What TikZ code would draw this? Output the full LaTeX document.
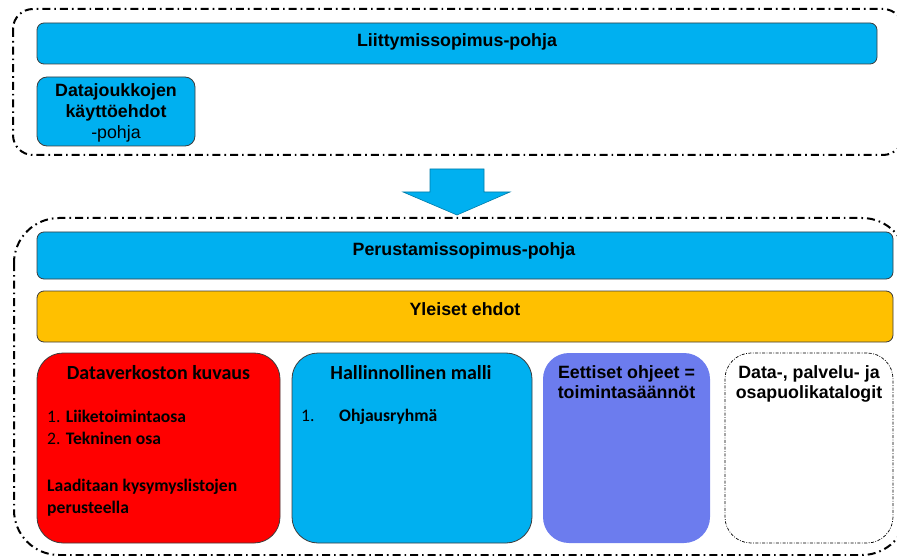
\documentclass[tikz,border=0pt]{standalone}
\usepackage{fontspec}
\setmainfont{Liberation Sans}
\newfontfamily\calibri{Carlito}
\definecolor{skyblue}{HTML}{00B0F0}
\definecolor{amber}{HTML}{FFC000}
\definecolor{signalred}{HTML}{FF0000}
\definecolor{lavender}{HTML}{6C7CEE}
\definecolor{edge}{HTML}{3C3C3C}
\begin{document}
\begin{tikzpicture}[x=1pt,y=-1pt,
  group/.style={draw=black, line width=2pt, dash pattern=on 8pt off 4pt on 1.6pt off 4pt},
  panel/.style={draw=edge, line width=0.8pt, inner sep=0pt, rounded corners=#1},
  panel/.default=7pt,
  head/.style={font=\fontsize{17.8}{20.5}\selectfont\bfseries, inner sep=0pt, anchor=base},
  plain/.style={font=\fontsize{17.8}{20.5}\selectfont, inner sep=0pt, anchor=base},
  ctitle/.style={font=\calibri\fontsize{20}{24}\selectfont\bfseries, inner sep=0pt, anchor=base},
  cbody/.style={font=\calibri\fontsize{17.6}{22}\selectfont, inner sep=0pt, anchor=base west},
]
\useasboundingbox (0,0) rectangle (897,556);

% dash-dotted group frames
\draw[group, rounded corners=20pt] (13,9) rectangle (903,155);
\draw[group, rounded corners=45pt] (14,218) rectangle (907,555);

% upper group: joining agreement template
\node[panel, fill=skyblue, minimum width=840, minimum height=41] (liitty) at (457,43.5) {};
\node[head] (liittyT) at (liitty.center |- 0,47) {Liittymissopimus-pohja};

\node[panel=10pt, fill=skyblue, minimum width=158, minimum height=69] (kaytto) at (116,111.5) {};
\node[head] (kayttoA) at (116,97) {Datajoukkojen};
\node[head] (kayttoB) at (116,118) {käyttöehdot};
\node[plain] (kayttoC) at (116,139) {-pohja};

% block arrow between the groups
\coordinate (arrowtip) at (457,215);
\draw[draw=skyblue!70!black, line width=0.6pt, fill=skyblue, line join=miter]
  (430,169) -- (484,169) -- (484,192) -- (510,192) -- (arrowtip)
  -- (403,192) -- (430,192) -- cycle;

% lower group: founding agreement template
\node[panel, fill=skyblue, minimum width=856, minimum height=47] (perus) at (465,255.5) {};
\node[head] (perusT) at (464,255) {Perustamissopimus-pohja};

\node[panel, fill=amber, minimum width=856, minimum height=51] (yleis) at (465,316.5) {};
\node[head] (yleisT) at (465,315) {Yleiset ehdot};

% four content panels
\node[panel=26pt, fill=signalred, minimum width=243, minimum height=190] (verkko) at (158.5,448) {};
\node[ctitle] (verkkoT) at (158.5,379) {Dataverkoston kuvaus};
\node[cbody] (verkko1) at (47,422) {1. \textbf{Liiketoimintaosa}};
\node[cbody] (verkko2) at (47,444) {2. \textbf{Tekninen osa}};
\node[cbody] (verkko3) at (47,491) {\bfseries Laaditaan kysymyslistojen};
\node[cbody] (verkko4) at (47,513) {\bfseries perusteella};

\node[panel=26pt, fill=skyblue, minimum width=240, minimum height=190] (malli) at (412,448) {};
\node[ctitle] (malliT) at (411,379) {Hallinnollinen malli};
\node[cbody] (malli1n) at (301,421) {1.};
\node[cbody] (malli1) at (339,421) {\bfseries Ohjausryhmä};

\node[panel=26pt, draw=none, fill=lavender, minimum width=167, minimum height=190] (eetti) at (626.5,448) {};
\node[head] (eettiA) at (626.5,378) {Eettiset ohjeet =};
\node[head] (eettiB) at (626.5,398) {toimintasäännöt};

\node[rounded corners=26pt, draw=black, line width=0.7pt, dash pattern=on 3pt off 1.5pt on 0.8pt off 1.5pt,
      inner sep=0pt, minimum width=168, minimum height=190] (kata) at (809,448) {};
\node[head] (kataA) at (809,378) {Data-, palvelu- ja};
\node[head] (kataB) at (809,398) {osapuolikatalogit};
\end{tikzpicture}
\end{document}
